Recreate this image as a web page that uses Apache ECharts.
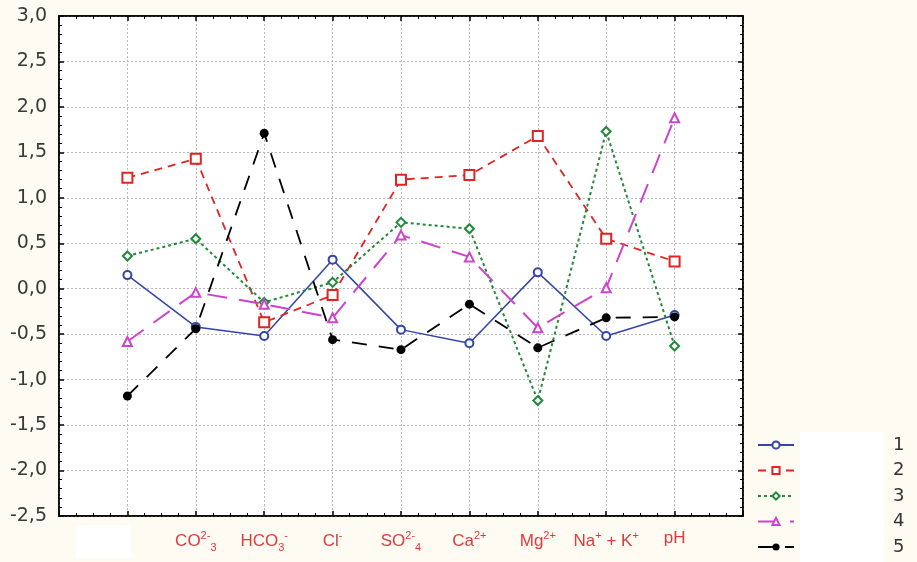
<!DOCTYPE html>
<html><head><meta charset="utf-8">
<script src="https://cdn.jsdelivr.net/npm/echarts@6/dist/echarts.min.js"></script>
<style>html,body{margin:0;padding:0;background:#fdfbf2;}#c{width:917px;height:562px;}</style>
</head><body><div id="c"></div>
<script>
// category tick labels (rich text markup for super/subscripts)
const categories = ['', '{t|CO}{sup|2-}{sub|3}', '{t|HCO}{sub|3}{sup|-}', '{t|Cl}{sup|-}', '{t|SO}{sup|2-}{sub|4}', '{t|Ca}{sup|2+}', '{t|Mg}{sup|2+}', '{t|Na}{sup|+}{t| + K}{sup|+}', '{t|pH}'];
const seriesNames = ['1', '2', '3', '4', '5'];
const s1 = [0.15, -0.42, -0.52, 0.32, -0.45, -0.60, 0.18, -0.52, -0.29];
const s2 = [1.22, 1.43, -0.37, -0.07, 1.20, 1.25, 1.68, 0.55, 0.30];
const s3 = [0.36, 0.55, -0.15, 0.07, 0.73, 0.66, -1.23, 1.73, -0.63];
const s4 = [-0.58, -0.04, -0.17, -0.32, 0.59, 0.35, -0.43, 0.01, 1.88];
const s5 = [-1.18, -0.44, 1.71, -0.56, -0.67, -0.17, -0.65, -0.32, -0.31];
const yTicks = ['-2,5','-2,0','-1,5','-1,0','-0,5','0,0','0,5','1,0','1,5','2,0','2,5','3,0'];

const toPts = arr => arr.map((v, i) => [i + 1, v]);
const chart = echarts.init(document.getElementById('c'));
const gridLine = {show: true, lineStyle: {color: '#b8b8b8', type: [2, 2], width: 1}};
const tickCommon = {show: true, inside: true, length: 5, lineStyle: {color: '#000', width: 1.5}};
const minorCommon = {show: true, length: 3, lineStyle: {color: '#000', width: 1}};
const lbl = {fontFamily: 'Liberation Sans', fontSize: 17, color: '#de3a3e'};
chart.setOption({
  backgroundColor: '#fdfbf2',
  animation: false,
  grid: {left: 59, right: 174, top: 16, bottom: 46, show: true, backgroundColor: '#ffffff', borderColor: '#000', borderWidth: 1.5},
  graphic: [
    {type: 'rect', shape: {x: 800, y: 432, width: 84, height: 130}, style: {fill: '#ffffff'}, z: -1},
    {type: 'rect', shape: {x: 76, y: 525, width: 55, height: 33}, style: {fill: '#ffffff'}, z: -1}
  ],
  xAxis: [{
    type: 'value', min: 0, max: 10, interval: 1, position: 'bottom',
    axisLine: {show: true, onZero: false, lineStyle: {color: '#000', width: 1.5}},
    axisTick: tickCommon, minorTick: Object.assign({splitNumber: 4}, minorCommon),
    splitLine: gridLine,
    axisLabel: {
      margin: 14,
      formatter: v => (v >= 1 && v <= categories.length) ? categories[v - 1] : '',
      rich: {
        t: lbl,
        sup: Object.assign({}, lbl, {fontSize: 11, padding: [0, 0, 11, 0]}),
        sub: Object.assign({}, lbl, {fontSize: 11, padding: [12, 0, 0, 0]})
      }
    }
  }, {
    type: 'value', min: 0, max: 10, interval: 1, position: 'top',
    axisLine: {show: true, onZero: false, lineStyle: {color: '#000', width: 1.5}},
    axisTick: tickCommon, minorTick: Object.assign({splitNumber: 4}, minorCommon),
    splitLine: {show: false}, axisLabel: {show: false}
  }],
  yAxis: [{
    type: 'value', min: -2.5, max: 3.0, interval: 0.5, position: 'left',
    axisLine: {show: true, onZero: false, lineStyle: {color: '#000', width: 1.5}},
    axisTick: tickCommon, minorTick: Object.assign({splitNumber: 5}, minorCommon),
    splitLine: gridLine,
    axisLabel: {
      margin: 12, fontFamily: 'DejaVu Sans', fontSize: 19, color: '#3a3a3a',
      formatter: v => yTicks[Math.round((v + 2.5) / 0.5)]
    }
  }, {
    type: 'value', min: -2.5, max: 3.0, interval: 0.5, position: 'right',
    axisLine: {show: true, onZero: false, lineStyle: {color: '#000', width: 1.5}},
    axisTick: tickCommon, minorTick: Object.assign({splitNumber: 5}, minorCommon),
    splitLine: {show: false}, axisLabel: {show: false}
  }],
  legend: {
    orient: 'vertical', left: 757, top: 436, padding: 0, itemWidth: 36, itemHeight: 9, itemGap: 7.5,
    data: seriesNames,
    textStyle: {fontFamily: 'DejaVu Sans', fontSize: 18, lineHeight: 18, color: '#333', padding: [0, 0, 0, 94]}
  },
  series: [
    {name: seriesNames[0], type: 'line', data: toPts(s1), symbol: 'emptyCircle', symbolSize: 8,
      itemStyle: {color: '#3344aa', borderWidth: 1.5}, lineStyle: {color: '#3344aa', width: 1.5, type: 'solid'}},
    {name: seriesNames[1], type: 'line', data: toPts(s2), symbol: 'emptyRect', symbolSize: 10,
      itemStyle: {color: '#e02424', borderWidth: 1.5}, lineStyle: {color: '#e02424', width: 1.8, type: [8, 6]}},
    {name: seriesNames[2], type: 'line', data: toPts(s3), symbol: 'emptyDiamond', symbolSize: 9,
      itemStyle: {color: '#22883a', borderWidth: 1.5}, lineStyle: {color: '#22883a', width: 2, type: [3, 3]}},
    {name: seriesNames[3], type: 'line', data: toPts(s4), symbol: 'emptyTriangle', symbolSize: 9,
      itemStyle: {color: '#cc44cc', borderWidth: 1.5}, lineStyle: {color: '#cc44cc', width: 2, type: [20, 12]}},
    {name: seriesNames[4], type: 'line', data: toPts(s5), symbol: 'circle', symbolSize: 9,
      itemStyle: {color: '#000000'}, lineStyle: {color: '#000000', width: 1.8, type: [15, 12]}}
  ]
});
</script></body></html>
